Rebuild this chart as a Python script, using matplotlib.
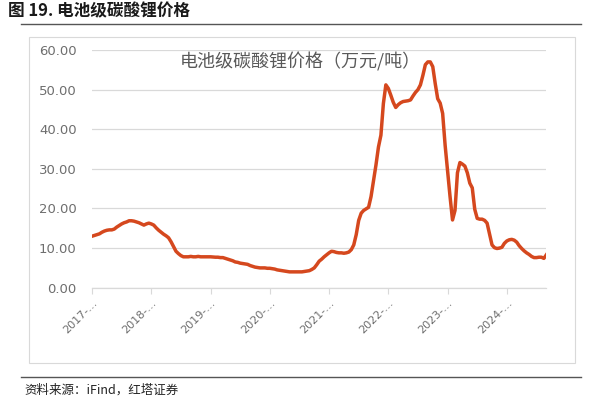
import numpy as np
import matplotlib
matplotlib.use('Agg')
import matplotlib.pyplot as plt
from matplotlib.patches import Rectangle
from matplotlib.lines import Line2D

plt.rcParams['font.family'] = ['Noto Sans CJK SC', 'DejaVu Sans']

# semi-monthly samples of battery-grade lithium carbonate price (10k CNY / t)
price = [
    13.0, 13.2, 13.4, 13.6, 14.0, 14.3, 14.5, 14.6, 14.6, 14.8,
    15.3, 15.7, 16.1, 16.4, 16.6, 16.9, 16.9, 16.8, 16.6, 16.4,
    16.1, 15.8, 16.1, 16.3, 16.1, 15.8, 15.1, 14.5, 14.0, 13.5,
    13.1, 12.6, 11.6, 10.4, 9.2, 8.6, 8.1, 7.8, 7.8, 7.8,
    7.9, 7.8, 7.8, 7.9, 7.8, 7.8, 7.8, 7.8, 7.8, 7.75,
    7.7, 7.7, 7.6, 7.6, 7.4, 7.2, 7.0, 6.8, 6.5, 6.4,
    6.2, 6.1, 6.0, 5.9, 5.6, 5.4, 5.2, 5.1, 5.0, 5.0,
    5.0, 4.9, 4.9, 4.8, 4.7, 4.5, 4.4, 4.3, 4.2, 4.1,
    4.0, 4.0, 4.0, 4.0, 4.0, 4.0, 4.1, 4.2, 4.3, 4.6,
    5.0, 5.8, 6.7, 7.2, 7.8, 8.3, 8.8, 9.2, 9.1, 8.9,
    8.8, 8.8, 8.7, 8.8, 9.0, 9.6, 10.8, 13.4, 17.0, 18.8,
    19.5, 19.9, 20.3, 23.0, 27.0, 31.0, 35.5, 38.5, 46.5, 51.2,
    50.3, 48.6, 46.8, 45.5, 46.2, 46.7, 47.0, 47.1, 47.2, 47.4,
    48.4, 49.3, 50.0, 51.2, 53.6, 56.3, 57.0, 57.0, 55.8, 51.5,
    47.7, 46.6, 44.0, 36.0, 29.5, 23.0, 17.1, 19.5, 29.0, 31.6,
    31.2, 30.7, 29.0, 26.4, 25.2, 19.8, 17.5, 17.3, 17.3, 17.0,
    16.3, 13.5, 10.8, 10.1, 9.9, 10.0, 10.2, 11.2, 11.8, 12.1,
    12.2, 12.0, 11.5, 10.6, 9.9, 9.3, 8.8, 8.4, 7.9, 7.6,
    7.6, 7.7, 7.7, 7.4, 8.3,
]
year_labels = ['2017-…', '2018-…', '2019-…', '2020-…',
               '2021-…', '2022-…', '2023-…', '2024-…']
per_label = 24
y_ticks = [0, 10, 20, 30, 40, 50, 60]

fig = plt.figure(figsize=(5.9, 4.07), dpi=100)

# header text and rules
fig.text(0.014, 0.971, '图 19. 电池级碳酸锂价格', fontsize=12, fontweight='bold',
         color='#1a1a1a', va='center', ha='left')
fig.add_artist(Line2D([0.036, 0.985], [0.941, 0.941], color='#555555', lw=1.0))
fig.add_artist(Line2D([0.036, 0.985], [0.074, 0.074], color='#555555', lw=1.0))
fig.text(0.042, 0.042, '资料来源：iFind，红塔证券', fontsize=9, color='#222222',
         va='center', ha='left')

# chart frame
fig.add_artist(Rectangle((0.049, 0.108), 0.925, 0.801, transform=fig.transFigure,
                         fill=False, ec='#d9d9d9', lw=0.8))

ax = fig.add_axes([0.156, 0.2931, 0.770, 0.584])
x = np.arange(len(price))
ax.plot(x, price, color='#D5481E', lw=2.5, solid_joinstyle='round')

ax.set_xlim(0, len(price) - 1)
ax.set_ylim(0, 60)
ax.set_yticks(y_ticks)
ax.set_yticklabels(['%.2f' % v for v in y_ticks], color='#6e6e6e', fontsize=9.5,
                   family=['DejaVu Sans'])
ax.grid(axis='y', color='#d9d9d9', lw=0.9)
ax.set_axisbelow(True)
for s in ['top', 'right', 'left']:
    ax.spines[s].set_visible(False)
ax.spines['bottom'].set_color('#d9d9d9')
ax.spines['bottom'].set_linewidth(0.9)
ax.tick_params(axis='y', length=0, pad=11)

ticks = [i * per_label for i in range(len(year_labels))]
ax.set_xticks(ticks)
ax.set_xticklabels(year_labels, rotation=45, ha='right', rotation_mode='anchor',
                   color='#6e6e6e', fontsize=8, family=['DejaVu Sans'])
ax.tick_params(axis='x', length=4, color='#d9d9d9', pad=3)

ax.text(0.458, 0.95, '电池级碳酸锂价格（万元/吨）', transform=ax.transAxes,
        ha='center', va='center', fontsize=13, color='#595959')

fig.savefig('out.png', dpi=100)
